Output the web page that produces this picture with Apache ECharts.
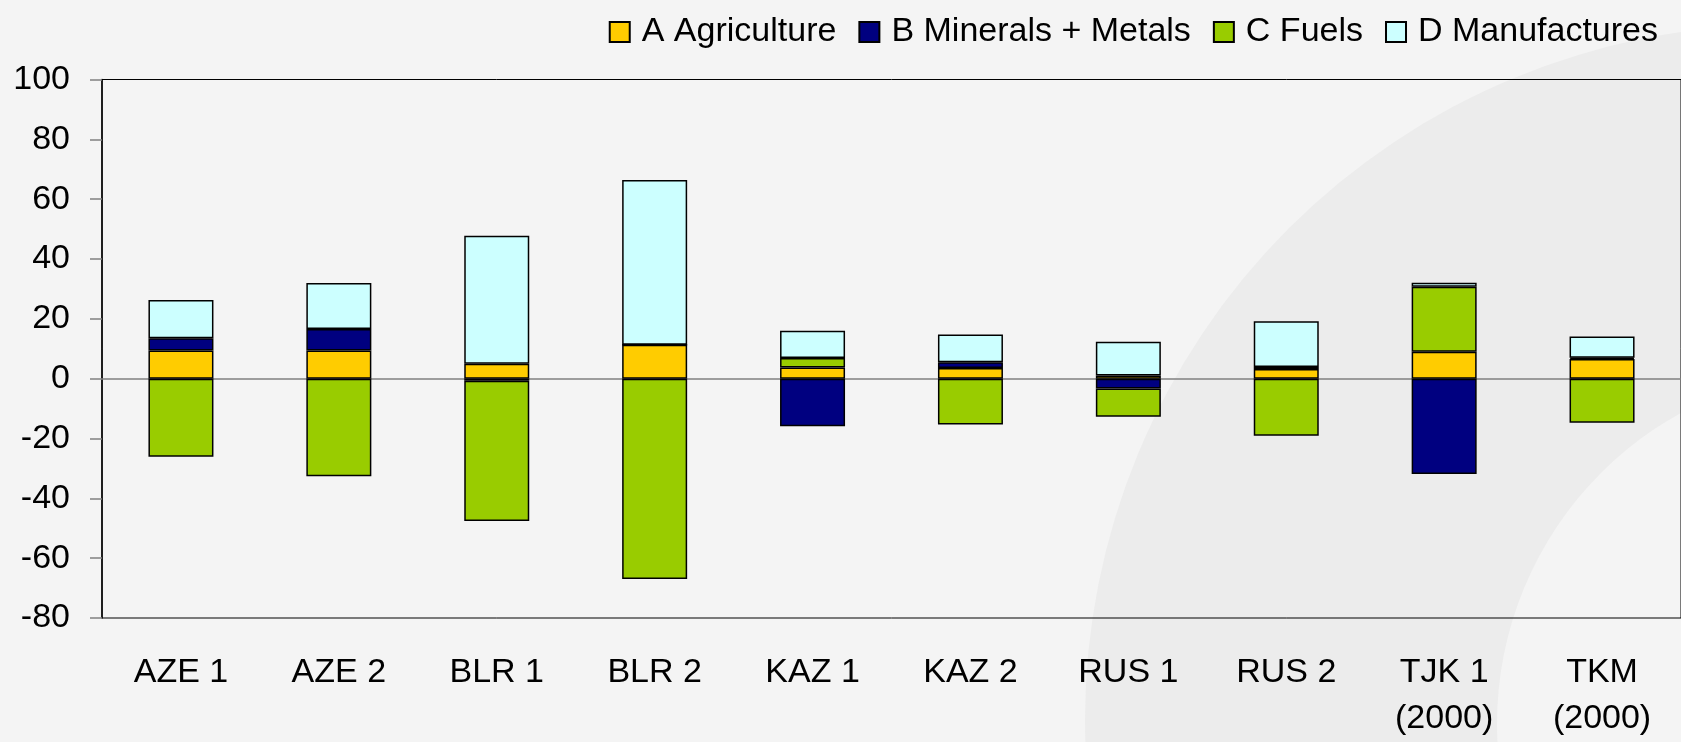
<!DOCTYPE html>
<html>
<head>
<meta charset="utf-8">
<script src="https://cdn.jsdelivr.net/npm/echarts@6/dist/echarts.min.js"></script>
<style>
  html, body { margin: 0; padding: 0; background: #f4f4f4; }
  #main { width: 1681px; height: 742px; }
</style>
</head>
<body>
<div id="main"></div>
<script>
// categories
const countries = ['AZE 1', 'AZE 2', 'BLR 1', 'BLR 2', 'KAZ 1', 'KAZ 2', 'RUS 1', 'RUS 2', 'TJK 1\n(2000)', 'TKM\n(2000)'];

// series values
const agriculture = [9.4, 9.4, 5.0, 11.3, 3.7, 3.6, 1.1, 3.2, 9.0, 6.6];
const minerals = [4.1, 7.2, -0.7, 0, -15.9, 1.9, -3.3, 0.7, -31.9, 0.4];
const fuels = [-26.1, -32.6, -46.9, -67.0, 3.2, -15.3, -9.4, -19.1, 21.7, -14.7];
const manufactures = [12.8, 15.4, 42.8, 55.1, 9.1, 9.3, 11.2, 15.3, 1.4, 7.1];

const seriesNames = ['A Agriculture', 'B Minerals + Metals', 'C Fuels', 'D Manufactures'];
const seriesColors = ['#ffcc00', '#000080', '#99cc00', '#ccffff'];
const seriesData = [agriculture, minerals, fuels, manufactures];

const fontFamily = 'Liberation Sans, Arial, sans-serif';

const chart = echarts.init(document.getElementById('main'));

const option = {
  backgroundColor: '#f4f4f4',
  animation: false,
  // background swoosh
  graphic: [
    {
      type: 'circle',
      z: -10,
      silent: true,
      shape: { cx: 1780, cy: 720, r: 695 },
      style: { fill: '#ececec' },
    },
    {
      type: 'circle',
      z: -9,
      silent: true,
      shape: { cx: 1852, cy: 724, r: 355 },
      style: { fill: '#f4f4f4' },
    },
  ],
  legend: {
    right: 18,
    top: 10,
    icon: 'rect',
    itemWidth: 20,
    itemHeight: 20,
    itemGap: 22,
    textStyle: {
      fontFamily: fontFamily,
      fontSize: 34,
      color: '#000',
      padding: [0, 0, 0, 7],
    },
    data: seriesNames,
  },
  grid: {
    left: 102,
    top: 79.5,
    bottom: 120,
    width: 1587,
    show: true,
    borderColor: '#000',
    borderWidth: 1,
    backgroundColor: 'transparent',
  },
  xAxis: {
    type: 'category',
    data: countries,
    axisLine: {
      onZero: true,
      lineStyle: { color: '#808080', width: 1.5 },
    },
    axisTick: { show: false },
    axisLabel: {
      margin: 32,
      fontFamily: fontFamily,
      fontSize: 34,
      lineHeight: 46,
      color: '#000',
      interval: 0,
    },
  },
  yAxis: {
    type: 'value',
    min: -80,
    max: 100,
    interval: 20,
    axisLine: {
      show: true,
      lineStyle: { color: '#000', width: 1.5 },
    },
    axisTick: {
      show: true,
      length: 12,
      lineStyle: { color: '#808080', width: 1.5 },
    },
    splitLine: { show: false },
    axisLabel: {
      margin: 32,
      fontFamily: fontFamily,
      fontSize: 34,
      color: '#000',
    },
  },
  series: seriesNames.map((name, i) => ({
    name: name,
    type: 'bar',
    stack: 'total',
    barWidth: 65,
    data: seriesData[i],
    itemStyle: {
      color: seriesColors[i],
      borderColor: '#000',
      borderWidth: 1.5,
    },
  })),
};

chart.setOption(option);
</script>
</body>
</html>
